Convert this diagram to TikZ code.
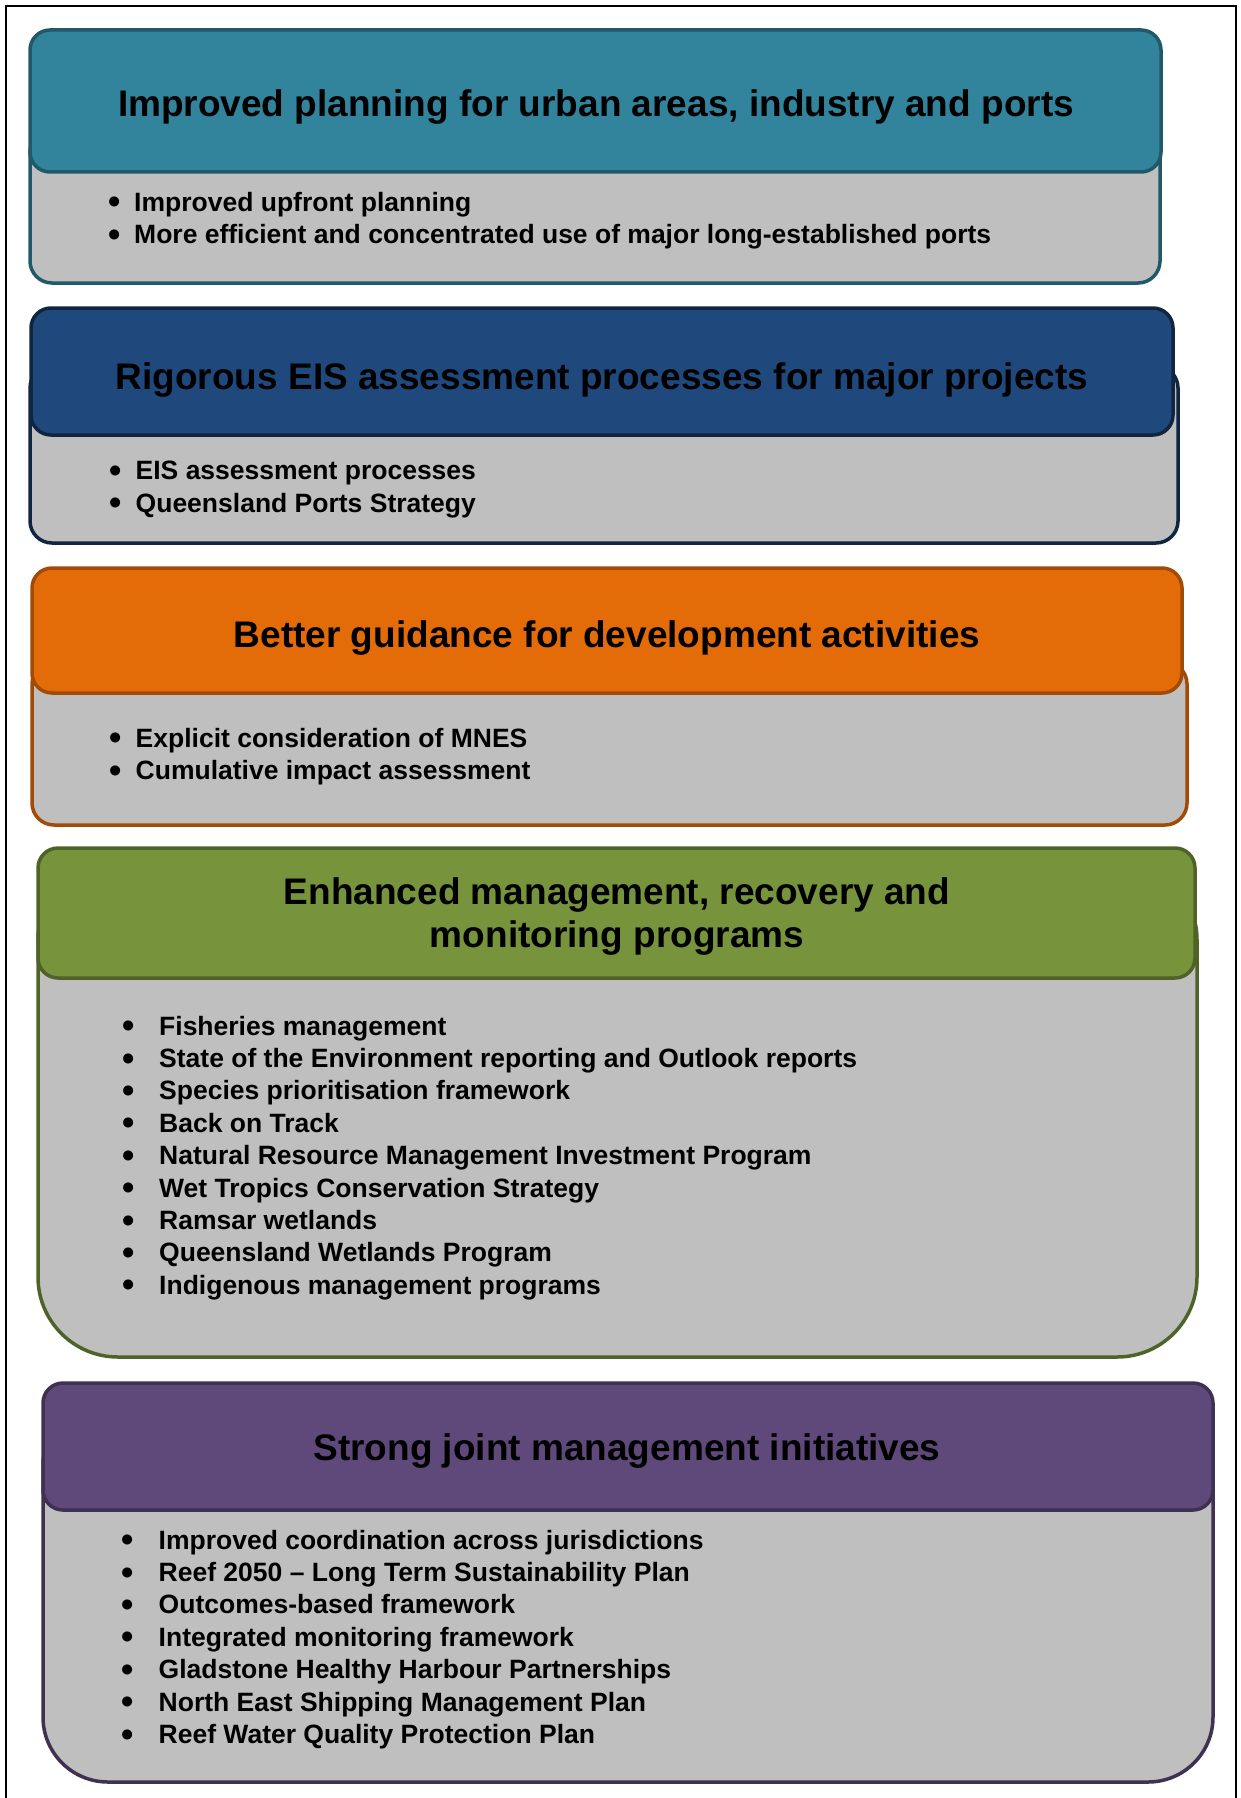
\documentclass[tikz,border=0pt]{standalone}
\usepackage{fontspec}
\setmainfont{Liberation Sans}
\usepackage{xcolor}

\definecolor{tealfill}{HTML}{31849B}
\definecolor{tealline}{HTML}{215968}
\definecolor{navyfill}{HTML}{1F497D}
\definecolor{navyline}{HTML}{10253F}
\definecolor{orangefill}{HTML}{E36C09}
\definecolor{orangeline}{HTML}{A04B07}
\definecolor{greenfill}{HTML}{77933C}
\definecolor{greenline}{HTML}{4F6228}
\definecolor{purplefill}{HTML}{5F497A}
\definecolor{purpleline}{HTML}{3F3151}
\definecolor{bodygrey}{HTML}{BFBFBF}

\newcommand{\headfont}{\fontsize{37}{43}\selectfont\bfseries}
\newcommand{\listfont}{\fontsize{26.5}{32.4}\selectfont\bfseries}
\newlength{\bulgap}
\newcommand{\itm}{\makebox[\bulgap][l]{\raisebox{-2.6pt}{\fontsize{35}{35}\selectfont\textbullet}}}

\tikzset{
  head/.style={line width=3.5pt, rounded corners=20pt},
  body/.style={line width=3.5pt, fill=bodygrey, rounded corners=#1},
  body/.default=22pt,
  title/.style={anchor=base, font=\headfont, inner sep=0pt},
  items/.style={anchor=north west, align=left, font=\listfont, inner sep=0pt,
    execute at begin node={\setlength{\bulgap}{#1}}},
  items/.default=26pt,
}

\begin{document}
\begin{tikzpicture}[x=1pt,y=-1pt]
	\useasboundingbox (0,0) rectangle (1241,1798);
	\draw[line width=2pt] (6,1805) -- (6,6) -- (1236,6) -- (1236,1805);
	%
	% urban areas, industry and ports
	\draw[body, draw=tealline] (30,130) rectangle (1160,283);
	\draw[head, fill=tealfill, draw=tealline] (30,30) rectangle (1161,172);
	\node[title] (tA) at (596,117) {Improved planning for urban areas, industry and ports};
	\node[items] (lA) at (108,191.7) {\itm Improved upfront planning\\
		\itm More efficient and concentrated use of major long-established ports};
	%
	% EIS assessment
	\draw[body, draw=navyline] (30,366) rectangle (1178,543);
	\draw[head, fill=navyfill, draw=navyline] (31,308) rectangle (1173,435);
	\node[title] (tB) at (602,389) {Rigorous EIS assessment processes for major projects};
	\node[items] (lB) at (109.5,461) {\itm EIS assessment processes\\
		\itm Queensland Ports Strategy};
	%
	% development activities
	\draw[body, draw=orangeline] (32,662) rectangle (1187,825);
	\draw[head, fill=orangefill, draw=orangeline] (32,568) rectangle (1182,693);
	\node[title] (tC) at (607,647) {Better guidance for development activities};
	\node[items] (lC) at (109.5,727.7) {\itm Explicit consideration of MNES\\
		\itm Cumulative impact assessment};
	%
	% management programs
	\draw[body=80pt, draw=greenline] (38,860) rectangle (1197,1357);
	\draw[head, fill=greenfill, draw=greenline] (38,848) rectangle (1195,978);
	\node[title, anchor=center, align=center] (tD) at (617,917)
		{Enhanced management, recovery and\\monitoring programs};
	\node[items=37pt] (lD) at (122,1015.7) {\itm Fisheries management\\
		\itm State of the Environment reporting and Outlook reports\\
		\itm Species prioritisation framework\\
		\itm Back on Track\\
		\itm Natural Resource Management Investment Program\\
		\itm Wet Tropics Conservation Strategy\\
		\itm Ramsar wetlands\\
		\itm Queensland Wetlands Program\\
		\itm Indigenous management programs};
	%
	% joint management
	\draw[body=65pt, draw=purpleline] (43,1400) rectangle (1213,1782);
	\draw[head, fill=purplefill, draw=purpleline] (43,1383) rectangle (1213,1510);
	\node[title] (tE) at (627,1460) {Strong joint management initiatives};
	\node[items=37pt] (lE) at (121.5,1529.7) {\itm Improved coordination across jurisdictions\\
		\itm Reef 2050 – Long Term Sustainability Plan\\
		\itm Outcomes-based framework\\
		\itm Integrated monitoring framework\\
		\itm Gladstone Healthy Harbour Partnerships\\
		\itm North East Shipping Management Plan\\
		\itm Reef Water Quality Protection Plan};
\end{tikzpicture}
\end{document}
